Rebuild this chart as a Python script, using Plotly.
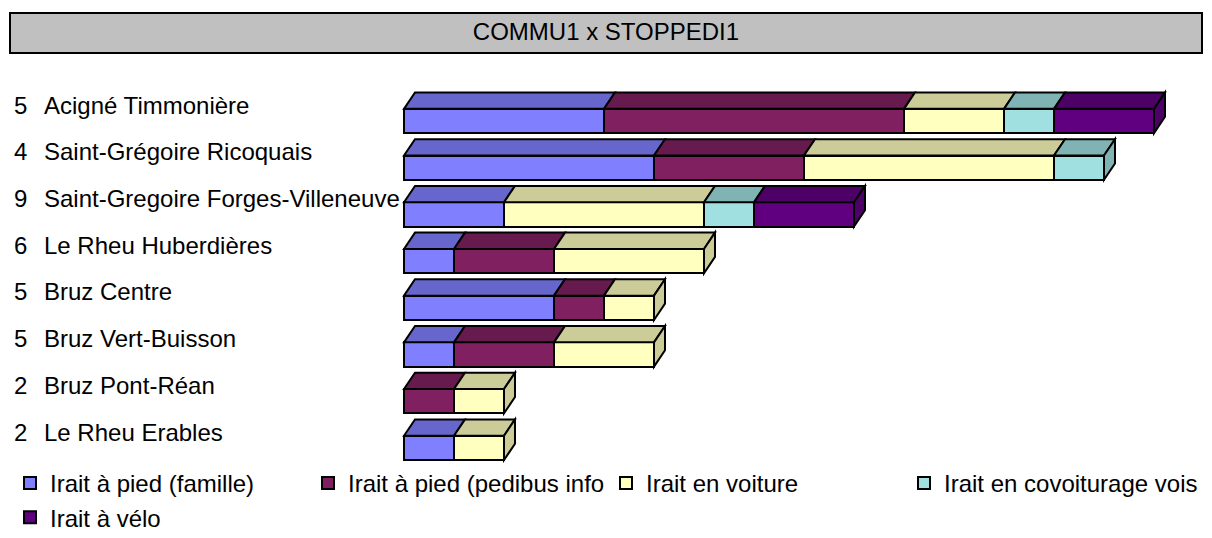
import plotly.graph_objects as go

# stops (rows, top to bottom) and the number shown in front of each
stops = ["Acigné Timmonière", "Saint-Grégoire Ricoquais", "Saint-Gregoire Forges-Villeneuve",
         "Le Rheu Huberdières", "Bruz Centre", "Bruz Vert-Buisson", "Bruz Pont-Réan",
         "Le Rheu Erables"]
stop_codes = ["5", "4", "9", "6", "5", "5", "2", "2"]

# answers (legend text as displayed, cut off like in the original)
answers = ["Irait à pied (famille)", "Irait à pied (pedibus info", "Irait en voiture",
           "Irait en covoiturage vois", "Irait à vélo"]

pied_famille = [4, 5, 2, 1, 3, 1, 0, 1]
pied_pedibus = [6, 3, 0, 2, 1, 2, 1, 0]
voiture = [2, 5, 4, 3, 1, 2, 1, 1]
covoiturage = [1, 1, 1, 0, 0, 0, 0, 0]
velo = [2, 0, 2, 0, 0, 0, 0, 0]

series = [pied_famille, pied_pedibus, voiture, covoiturage, velo]
front_colors = ["#8080FF", "#802060", "#FFFFC0", "#A0E0E0", "#600080"]
side_colors = ["#6666CC", "#661A4D", "#CCCC99", "#80B3B3", "#4D0066"]

# the page adds an 8px body margin, so the figure is 8px smaller than the window
W, H = 1204, 530
X0_PX, PX_PER_UNIT = 396, 50        # where value 0 sits, and scale
ROW0_PX, ROW_STEP = 113, 46.7       # centre of first bar, row spacing
BAR_W = 0.52
DX, DY = 0.22, 0.35   # depth of the fake 3d, in axis units
FONT = "Arial, Liberation Sans, sans-serif"


def paper_x(px):
    return px / W


def paper_y(py):
    return 1 - py / H


rows = list(range(len(stops)))
fig = go.Figure()

for name, vals, col in zip(answers, series, front_colors):
    fig.add_trace(go.Bar(
        y=rows, x=[v if v else None for v in vals], name=name, orientation="h",
        width=BAR_W, marker=dict(color=col, line=dict(color="black", width=2)),
        hoverinfo="x+name",
    ))

shapes = []
for i in rows:
    top = i - BAR_W / 2
    bot = i + BAR_W / 2
    start = 0
    last = None
    for vals, col in zip(series, side_colors):
        v = vals[i]
        if not v:
            continue
        end = start + v
        shapes.append(dict(
            type="path", xref="x", yref="y", fillcolor=col,
            line=dict(color="black", width=2),
            path=f"M{start},{top} L{start + DX},{top - DY} L{end + DX},{top - DY} L{end},{top} Z",
        ))
        last = (end, col)
        start = end
    if last:
        end, col = last
        shapes.append(dict(
            type="path", xref="x", yref="y", fillcolor=col,
            line=dict(color="black", width=2),
            path=f"M{end},{top} L{end + DX},{top - DY} L{end + DX},{bot - DY} L{end},{bot} Z",
        ))

# title box
shapes.append(dict(
    type="rect", xref="paper", yref="paper", layer="below",
    x0=paper_x(2), x1=paper_x(1194), y0=paper_y(45), y1=paper_y(5),
    fillcolor="#C0C0C0", line=dict(color="black", width=2),
))

annotations = []
for i, (code, stop) in enumerate(zip(stop_codes, stops)):
    annotations.append(dict(x=paper_x(4), xref="paper", y=i - 0.34, yref="y",
                            text=code, showarrow=False, xanchor="left", yanchor="middle",
                            font=dict(size=24, color="black", family=FONT)))
    annotations.append(dict(x=paper_x(34), xref="paper", y=i - 0.34, yref="y",
                            text=stop, showarrow=False, xanchor="left", yanchor="middle",
                            font=dict(size=24, color="black", family=FONT)))

x_range = [-X0_PX / PX_PER_UNIT, (W - X0_PX) / PX_PER_UNIT]
y_range = [(H - ROW0_PX) / ROW_STEP, -ROW0_PX / ROW_STEP]

fig.update_layout(
    width=W, height=H,
    margin=dict(l=0, r=0, t=0, b=0, autoexpand=False),
    plot_bgcolor="white", paper_bgcolor="white",
    barmode="stack",
    font=dict(family=FONT, size=24, color="black"),
    title=dict(text="COMMU1 x STOPPEDI1", x=598 / W, xref="container", xanchor="center",
               y=1 - 24 / H, yref="container", yanchor="middle",
               font=dict(size=24, color="black", family=FONT)),
    xaxis=dict(range=x_range, visible=False, fixedrange=True),
    yaxis=dict(range=y_range, visible=False, fixedrange=True),
    shapes=shapes,
    annotations=annotations,
    showlegend=True,
    legend=dict(orientation="h", x=paper_x(2), y=paper_y(453), xanchor="left", yanchor="top",
                entrywidth=253, entrywidthmode="pixels", traceorder="normal",
                font=dict(size=24, color="black", family=FONT),
                bgcolor="rgba(0,0,0,0)", itemclick=False, itemdoubleclick=False),
)

fig.write_html("out.html")
